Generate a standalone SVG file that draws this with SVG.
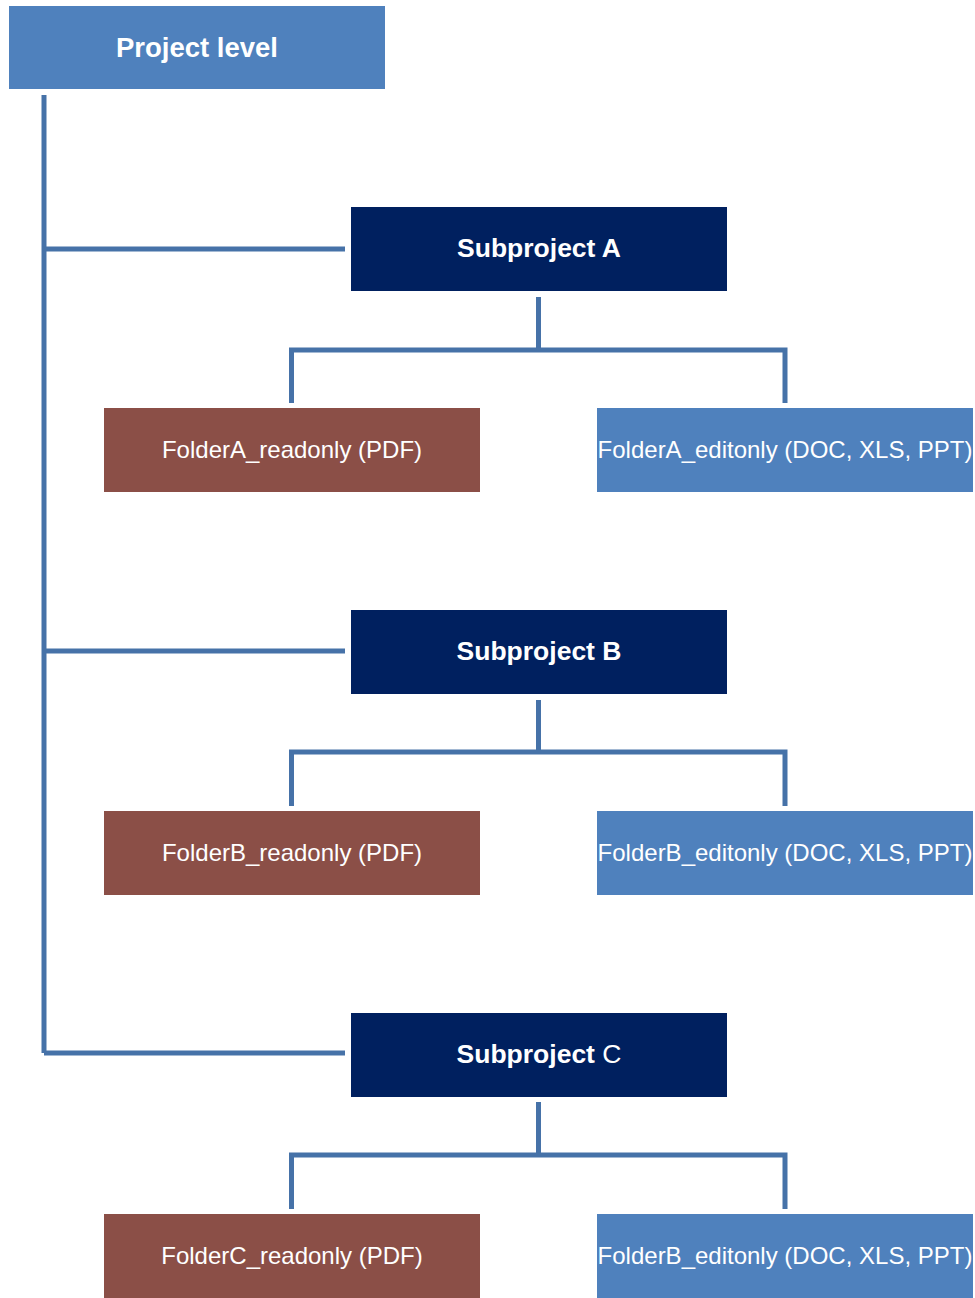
<svg xmlns="http://www.w3.org/2000/svg" width="975" height="1298" viewBox="0 0 975 1298">
<style>
.ln{stroke:#4672A8;stroke-width:5;fill:none;stroke-linecap:butt;stroke-linejoin:miter}
.top{fill:#4F81BD}
.sub{fill:#00205F}
.ro{fill:#8B4F47}
.ed{fill:#4F81BD}
.t{font-family:"Liberation Sans",Arial,sans-serif;fill:#FFFFFF;text-anchor:middle}
.b{font-weight:bold}
.f{font-size:24px}
</style>
<rect width="975" height="1298" fill="#FFFFFF"/>
<g id="connectors">
<path class="ln" d="M44,95 V1053"/>
<path class="ln" d="M44,249 H345"/>
<path class="ln" d="M44,651 H345"/>
<path class="ln" d="M44,1053 H345"/>
<path class="ln" d="M538.5,297 V350"/>
<path class="ln" d="M291.5,403 V350 H785 V403"/>
<path class="ln" d="M538.5,700 V752"/>
<path class="ln" d="M291.5,806 V752 H785 V806"/>
<path class="ln" d="M538.5,1102 V1155"/>
<path class="ln" d="M291.5,1209 V1155 H785 V1209"/>
</g>
<g id="project-level">
<rect class="top" x="9" y="6" width="376" height="83"/>
<text class="t b" x="197" y="56.5" font-size="27.5">Project level</text>
</g>
<g id="subproject-a">
<rect class="sub" x="351" y="207" width="376" height="84"/>
<text class="t b" x="539" y="257" font-size="26.5">Subproject A</text>
</g>
<g id="folder-a-readonly">
<rect class="ro" x="104" y="408" width="376" height="84"/>
<text class="t f" x="292" y="458">FolderA_readonly (PDF)</text>
</g>
<g id="folder-a-editonly">
<rect class="ed" x="597" y="408" width="376" height="84"/>
<text class="t f" x="785" y="458">FolderA_editonly (DOC, XLS, PPT)</text>
</g>
<g id="subproject-b">
<rect class="sub" x="351" y="610" width="376" height="84"/>
<text class="t b" x="539" y="660" font-size="26.5">Subproject B</text>
</g>
<g id="folder-b-readonly">
<rect class="ro" x="104" y="811" width="376" height="84"/>
<text class="t f" x="292" y="861">FolderB_readonly (PDF)</text>
</g>
<g id="folder-b-editonly">
<rect class="ed" x="597" y="811" width="376" height="84"/>
<text class="t f" x="785" y="861">FolderB_editonly (DOC, XLS, PPT)</text>
</g>
<g id="subproject-c">
<rect class="sub" x="351" y="1013" width="376" height="84"/>
<text class="t" x="539" y="1063" font-size="26.5"><tspan class="b">Subproject</tspan> C</text>
</g>
<g id="folder-c-readonly">
<rect class="ro" x="104" y="1214" width="376" height="84"/>
<text class="t f" x="292" y="1264">FolderC_readonly (PDF)</text>
</g>
<g id="folder-c-editonly">
<rect class="ed" x="597" y="1214" width="376" height="84"/>
<text class="t f" x="785" y="1264">FolderB_editonly (DOC, XLS, PPT)</text>
</g>
</svg>
